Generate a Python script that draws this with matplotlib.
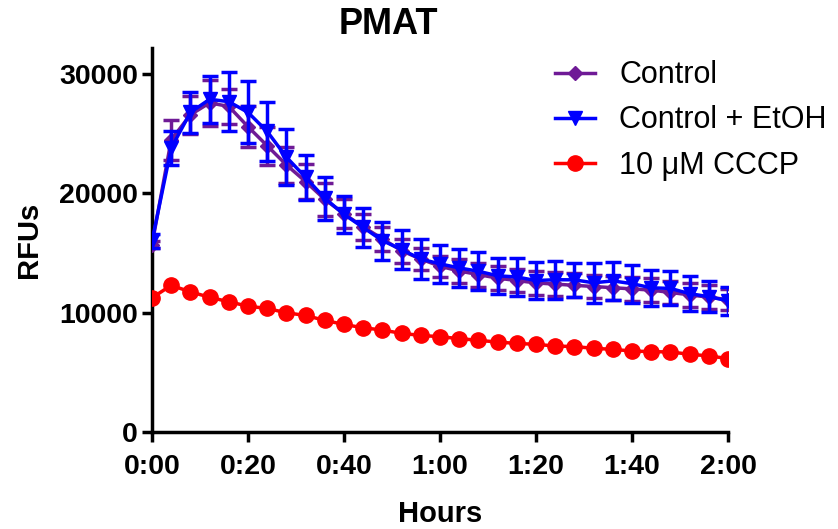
import numpy as np
import matplotlib
matplotlib.use("Agg")
import matplotlib.pyplot as plt

plt.rcParams['font.family'] = ['Liberation Sans', 'DejaVu Sans']

# sampling times in minutes (one read every 4 min)
minutes = list(range(0, 121, 4))

control = [15700, 24500, 26600, 27600, 27300, 25600, 24000, 22400, 21000, 19500,
           18300, 17200, 16200, 15200, 14500, 13900, 13500, 13200, 12900, 12700,
           12500, 12400, 12300, 12200, 12100, 12000, 11900, 11700, 11500, 11300, 11100]
control_err = [300, 1700, 1600, 1900, 1500, 1700, 1600, 1500, 1500, 1400,
               1200, 1100, 1000, 1000, 900, 900, 1000, 1000, 1000, 1000,
               1000, 1000, 1000, 1000, 1000, 1000, 1000, 1000, 1000, 1000, 900]

etoh = [16000, 23800, 26800, 27900, 27700, 26800, 25200, 23050, 21350, 19600,
        18250, 17150, 16050, 15300, 14500, 14100, 13760, 13480, 13100, 13000,
        12700, 12770, 12760, 12510, 12670, 12440, 12090, 12040, 11600, 11350, 11000]
etoh_err = [600, 1400, 1750, 1950, 2500, 2600, 2500, 2350, 1900, 1800,
            1550, 1600, 1600, 1650, 1700, 1600, 1600, 1580, 1500, 1600,
            1520, 1600, 1420, 1670, 1560, 1600, 1530, 1430, 1460, 1300, 1150]

cccp = [11250, 12300, 11750, 11300, 10920, 10550, 10360, 10000, 9770, 9360,
        9020, 8740, 8550, 8270, 8100, 7990, 7830, 7690, 7540, 7430,
        7350, 7210, 7160, 7020, 6930, 6790, 6740, 6710, 6520, 6380, 6160]

xticks = [0, 20, 40, 60, 80, 100, 120]
xtick_labels = ['0:00', '0:20', '0:40', '1:00', '1:20', '1:40', '2:00']
yticks = [0, 10000, 20000, 30000]

purple = '#6F1A96'
blue = '#0000FF'
red = '#FF0000'

fig = plt.figure(figsize=(8.38, 5.29), dpi=100)
ax = fig.add_axes([152/838, 1 - 432/529, (728 - 152)/838, (432 - 48)/529])

l_cccp, = ax.plot(minutes, cccp, '-o', color=red, lw=2.5, ms=11, zorder=3)
eb_ctrl = ax.errorbar(minutes, control, yerr=control_err, fmt='-D', color=purple, lw=2.5, ms=7,
                      elinewidth=2.5, capsize=6, capthick=2.5, zorder=4)
eb_etoh = ax.errorbar(minutes, etoh, yerr=etoh_err, fmt='-v', color=blue, lw=2.5, ms=10,
                      elinewidth=2.5, capsize=6, capthick=2.5, zorder=5)

ax.set_xlim(0, 120)
ax.set_ylim(0, 32200)
ax.set_xticks(xticks)
ax.set_xticklabels(xtick_labels)
ax.set_yticks(yticks)

for side in ['top', 'right']:
    ax.spines[side].set_visible(False)
for side in ['left', 'bottom']:
    ax.spines[side].set_linewidth(2.5)
ax.tick_params(width=2.5, length=7, labelsize=20.5)
ax.tick_params(axis='x', pad=9)
ax.tick_params(axis='y', pad=3)
for lbl in ax.get_xticklabels() + ax.get_yticklabels():
    lbl.set_fontweight('bold')

ax.set_xlabel('Hours', fontsize=21, fontweight='bold', labelpad=14)
ax.set_ylabel('RFUs', fontsize=21, fontweight='bold', labelpad=12)
fig.text(388/838, 1 - 25/529, 'PMAT', fontsize=26, fontweight='bold', ha='center', va='center')

# legend shows plain line + marker, no error caps
ax.legend([eb_ctrl[0], eb_etoh[0], l_cccp], ['Control', 'Control + EtOH', '10 \u03bcM CCCP'],
          loc='upper left', bbox_to_anchor=(543/838, 1 - 48/529), bbox_transform=fig.transFigure,
          borderaxespad=0, frameon=False, fontsize=22,
          handlelength=1.3, labelspacing=0.5, handletextpad=0.8)

fig.savefig('out.png', dpi=100)
